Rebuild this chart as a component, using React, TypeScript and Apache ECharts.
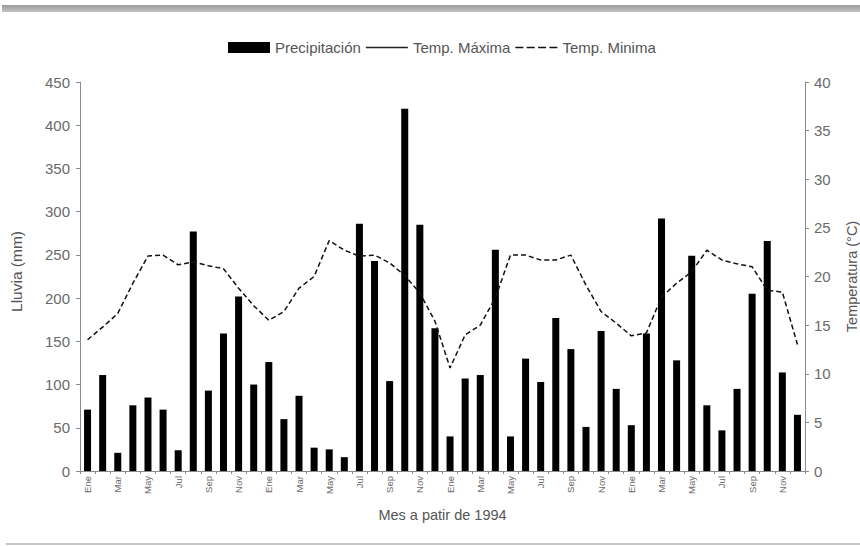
import React, { useEffect, useRef } from "react";
import * as echarts from "echarts";

// Month abbreviations and the four years covered (Ene 1994 – Dic 1997)
const monthNames = ["Ene", "Feb", "Mar", "Abr", "May", "Jun", "Jul", "Ago", "Sep", "Oct", "Nov", "Dic"];
const years = [1994, 1995, 1996, 1997];
const categories = years.flatMap((y) => monthNames.map((m) => `${m}-${y}`));

// Monthly rainfall (mm)
const precipitation = [
  71, 111, 21, 76, 85, 71, 24, 277, 93, 159, 202, 100,
  126, 60, 87, 27, 25, 16, 286, 243, 104, 419, 285, 165,
  40, 107, 111, 256, 40, 130, 103, 177, 141, 51, 162, 95,
  53, 159, 292, 128, 249, 76, 47, 95, 205, 266, 114, 65,
];

// Monthly minimum temperature (°C)
const tempMin = [
  13.5, 14.8, 16.2, 19.3, 22.1, 22.2, 21.2, 21.5, 21.1, 20.8, 18.8, 17.0,
  15.5, 16.4, 18.8, 20.0, 23.7, 22.7, 22.1, 22.2, 21.4, 20.1, 18.3, 15.4,
  10.6, 14.0, 15.0, 17.8, 22.2, 22.2, 21.7, 21.7, 22.2, 19.1, 16.4, 15.2,
  13.9, 14.2, 17.9, 19.3, 20.5, 22.7, 21.7, 21.3, 21.0, 18.6, 18.4, 13.0,
];

// Maximum temperature has no recorded values in this series
const tempMax: number[] = [];

const rainTicks = { min: 0, max: 450, interval: 50 };
const tempTicks = { min: 0, max: 40, interval: 5 };

// Legend glyphs: a plain rule and a four-dash rule
const solidRule = "path://M0,0H42V1.3H0Z";
const dashedRule =
  "path://M0,0H8V1.5H0Z M11.3,0H19.3V1.5H11.3Z M22.7,0H30.7V1.5H22.7Z M34,0H42V1.5H34Z";

export default function App() {
  const ref = useRef<HTMLDivElement>(null);

  useEffect(() => {
    if (!ref.current) return;
    const chart = echarts.init(ref.current, undefined, { renderer: "svg" });
    const axisColor = "#8a8a8a";
    const labelColor = "#6a6a6a";
    const font = "Liberation Sans, Arial, sans-serif";

    chart.setOption({
      animation: false,
      backgroundColor: "#fff",
      textStyle: { fontFamily: font },
      graphic: [
        {
          type: "rect",
          shape: { x: 2, y: 5, width: 860, height: 7 },
          style: {
            fill: new echarts.graphic.LinearGradient(0, 0, 0, 1, [
              { offset: 0, color: "#9a9a9a" },
              { offset: 1, color: "#c4c4c4" },
            ]),
          },
        },
        {
          type: "line",
          shape: { x1: 6, y1: 544, x2: 860, y2: 544 },
          style: { stroke: "#b0b0b0", lineWidth: 1.5 },
        },
      ],
      legend: {
        top: 35,
        left: 223,
        itemWidth: 42,
        itemHeight: 11,
        itemGap: 5,
        textStyle: { fontSize: 15, color: "#555", fontFamily: font },
        data: [
          { name: "Precipitación", icon: "rect" },
          { name: "Temp. Máxima", icon: solidRule },
          { name: "Temp. Minima", icon: dashedRule },
        ],
      },
      grid: { left: 80, right: 55, top: 82, bottom: 75, outerBoundsMode: "none" },
      xAxis: {
        type: "category",
        data: categories,
        boundaryGap: true,
        name: "Mes a patir de 1994",
        nameLocation: "middle",
        nameGap: 36,
        nameTextStyle: { fontSize: 14.5, color: "#555" },
        axisLine: { lineStyle: { color: axisColor } },
        axisTick: { show: true, interval: 0, length: 3, lineStyle: { color: axisColor } },
        axisLabel: {
          interval: 1,
          rotate: 90,
          fontSize: 9.5,
          color: labelColor,
          margin: 5,
          formatter: (v: string) => v.split("-")[0],
        },
      },
      yAxis: [
        {
          type: "value",
          ...rainTicks,
          position: "left",
          name: "Lluvia (mm)",
          nameLocation: "middle",
          nameGap: 56,
          nameRotate: 90,
          nameTextStyle: { fontSize: 15.5, color: "#555", padding: [0, 0, 0, 10] },
          axisLine: { show: true, lineStyle: { color: axisColor } },
          axisTick: { show: true, length: 4, lineStyle: { color: axisColor } },
          axisLabel: { fontSize: 15, color: labelColor, margin: 10 },
          splitLine: { show: false },
        },
        {
          type: "value",
          ...tempTicks,
          position: "right",
          name: "Temperatura (°C)",
          nameLocation: "middle",
          nameGap: 39,
          nameRotate: 90,
          nameTextStyle: { fontSize: 14.5, color: "#555" },
          axisLine: { show: true, lineStyle: { color: axisColor } },
          axisTick: { show: true, length: 4, lineStyle: { color: axisColor } },
          axisLabel: { fontSize: 15, color: labelColor, margin: 9 },
          splitLine: { show: false },
        },
      ],
      series: [
        {
          name: "Precipitación",
          type: "bar",
          yAxisIndex: 0,
          data: precipitation,
          barWidth: 7,
          itemStyle: { color: "#000" },
        },
        {
          name: "Temp. Máxima",
          type: "line",
          yAxisIndex: 1,
          data: tempMax,
          symbol: "none",
          lineStyle: { color: "#222", width: 1 },
          itemStyle: { color: "#222" },
        },
        {
          name: "Temp. Minima",
          type: "line",
          yAxisIndex: 1,
          data: tempMin,
          symbol: "none",
          lineStyle: { color: "#111", width: 1.5, type: [5, 3] },
          itemStyle: { color: "#111" },
        },
      ],
    });

    return () => chart.dispose();
  }, []);

  return (
    <div
      ref={ref}
      style={{ position: "fixed", left: 0, top: 0, width: 860, height: 546 }}
    />
  );
}
